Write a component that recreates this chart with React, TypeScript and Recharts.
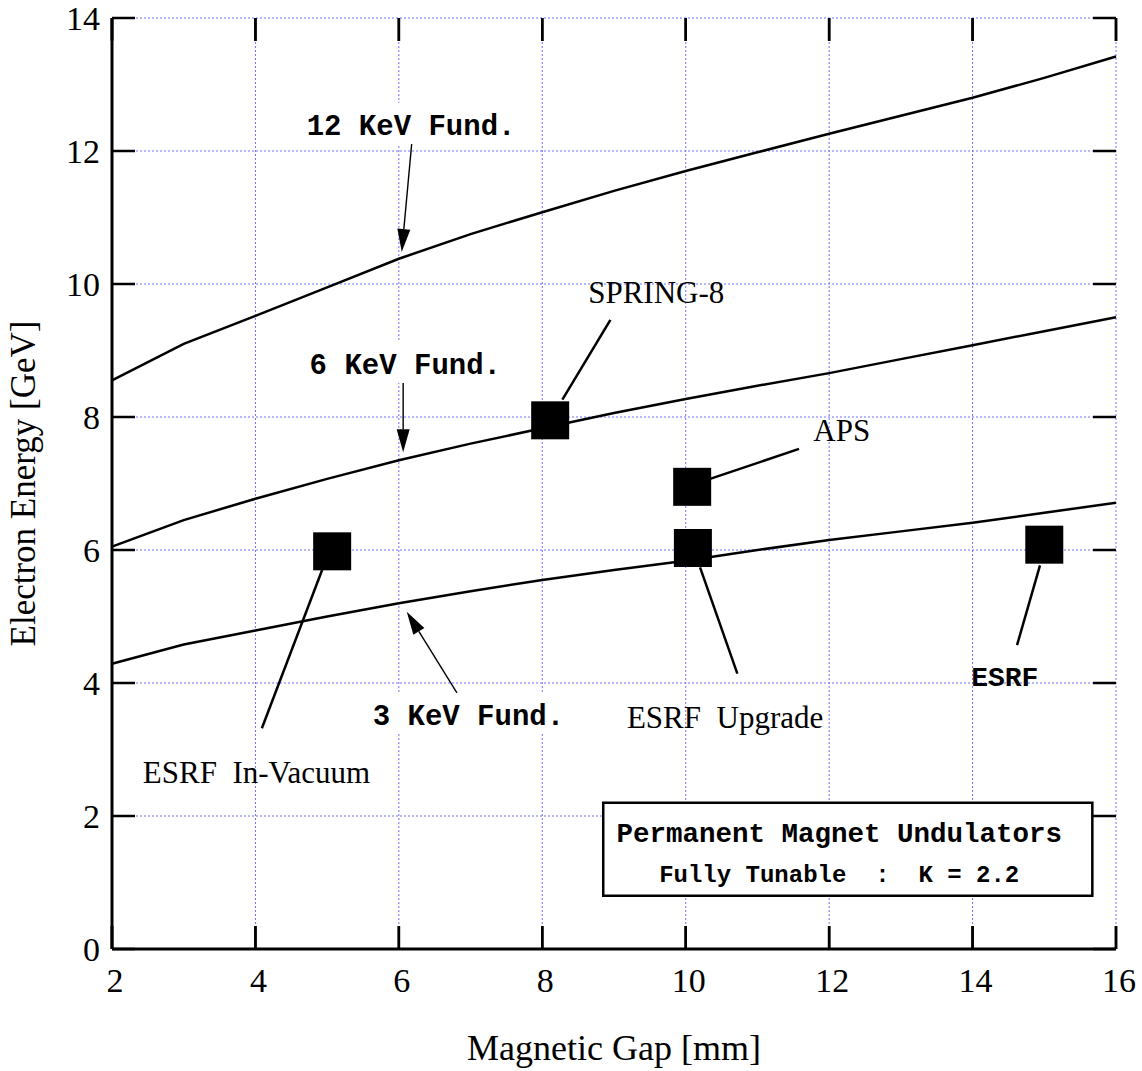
import React from 'react';
import {
  ComposedChart,
  Line,
  Scatter,
  XAxis,
  YAxis,
  CartesianGrid,
  ReferenceLine,
  ReferenceDot,
  ReferenceArea,
} from 'recharts';

// Magnetic gap [mm] where the tuning curves were computed
const gaps = [2, 3, 4, 5, 6, 7, 8, 9, 10, 11, 12, 13, 14, 15, 16];
// Electron energy [GeV] for each fundamental
const fund12 = [8.55, 9.1, 9.52, 9.95, 10.38, 10.75, 11.08, 11.4, 11.7, 11.98, 12.26, 12.53, 12.8, 13.1, 13.42];
const fund6 = [6.05, 6.45, 6.77, 7.07, 7.35, 7.6, 7.83, 8.06, 8.27, 8.47, 8.66, 8.87, 9.08, 9.29, 9.5];
const fund3 = [4.29, 4.58, 4.79, 5.0, 5.2, 5.38, 5.55, 5.7, 5.84, 6.0, 6.15, 6.28, 6.41, 6.56, 6.71];

// Facilities
const siteNames = ['ESRF In-Vacuum', 'SPRING-8', 'APS', 'ESRF Upgrade', 'ESRF'];
const siteGap = [5.07, 8.11, 10.09, 10.1, 15.0];
const siteEnergy = [5.98, 7.95, 6.95, 6.03, 6.08];

const xTicks = [2, 4, 6, 8, 10, 12, 14, 16];
const yTicks = [0, 2, 4, 6, 8, 10, 12, 14];
const xMin = 2;
const xMax = 16;
const yMin = 0;
const yMax = 14;

// thin arrows pointing at curves: [x1, y1, x2, y2]
const arrows = [
  [6.18, 12.12, 6.04, 10.48],
  [6.06, 8.51, 6.06, 7.47],
  [6.81, 3.85, 6.11, 5.07],
];
// leader lines from facility squares to their names
const leaders = [
  [4.93, 5.7, 4.09, 3.32],
  [8.28, 8.26, 8.95, 9.46],
  [10.34, 7.07, 11.58, 7.52],
  [10.2, 5.74, 10.72, 4.14],
  [14.94, 5.77, 14.62, 4.57],
];
const curveLabels = ['12 KeV Fund.', '6 KeV Fund.', '3 KeV Fund.'];
const curveLabelPos = [
  [6.17, 12.24],
  [6.09, 8.65],
  [6.97, 3.37],
];
const siteLabelPos = [
  [2.43, 2.5],
  [8.64, 9.71],
  [11.78, 7.64],
  [9.18, 3.32],
  [13.98, 3.95],
];
const boxLines = ['Permanent Magnet Undulators', 'Fully Tunable  :  K = 2.2'];

const rows = gaps.map((g, i) => ({ gap: g, k12: fund12[i], k6: fund6[i], k3: fund3[i] }));
const sites = siteNames.map((n, i) => ({ name: n, gap: siteGap[i], energy: siteEnergy[i] }));

const serif = '"Liberation Serif", "Times New Roman", serif';
const mono = '"Liberation Mono", "Courier New", monospace';

const TICK = 23;
const TW = 2.5;
const axisLine = { stroke: '#000', strokeWidth: 3 };

function BottomTick({ x, y, payload }: any) {
  return (
    <text x={x + 3} y={y + 43} textAnchor="middle" fontFamily={serif} fontSize={34} fill="#000">
      {payload.value}
    </text>
  );
}

function LeftTick({ x, y, payload }: any) {
  return (
    <text x={x - 12} y={y + 12} textAnchor="end" fontFamily={serif} fontSize={34} fill="#000">
      {payload.value}
    </text>
  );
}

// short inward tick marks at both ends of a horizontal reference segment
function tickPair(p: any) {
  const { x1, y1, x2, y2 } = p;
  const len = Math.hypot(x2 - x1, y2 - y1) || 1;
  const ux = ((x2 - x1) / len) * TICK;
  const uy = ((y2 - y1) / len) * TICK;
  return (
    <g>
      <line x1={x1} y1={y1} x2={x1 + ux} y2={y1 + uy} stroke="#000" strokeWidth={TW} />
      <line x1={x2} y1={y2} x2={x2 - ux} y2={y2 - uy} stroke="#000" strokeWidth={TW} />
    </g>
  );
}

// vertical inward ticks on the top and bottom frame; the area spans the whole
// linear x domain, so each tick sits at its proportional place along the width
function frameTicks(p: any) {
  const { x, y, width, height } = p;
  return (
    <g>
      {xTicks.map((v) => {
        const px = x + ((v - xMin) / (xMax - xMin)) * width;
        return (
          <g key={v}>
            <rect x={px - TW / 2} y={y + height - TICK} width={TW} height={TICK} fill="#000" />
            <rect x={px - TW / 2} y={y} width={TW} height={TICK} fill="#000" />
          </g>
        );
      })}
    </g>
  );
}

function arrowShape(p: any) {
  const { x1, y1, x2, y2 } = p;
  const a = Math.atan2(y2 - y1, x2 - x1);
  const L = 23;
  const W = 6.5;
  const bx = x2 - L * Math.cos(a);
  const by = y2 - L * Math.sin(a);
  const px = -Math.sin(a) * W;
  const py = Math.cos(a) * W;
  return (
    <g>
      <line x1={x1} y1={y1} x2={bx} y2={by} stroke="#000" strokeWidth={1.4} />
      <polygon points={`${x2},${y2} ${bx + px},${by + py} ${bx - px},${by - py}`} fill="#000" />
    </g>
  );
}

function squareShape(p: any) {
  const s = 38;
  return <rect x={p.cx - s / 2} y={p.cy - s / 2} width={s} height={s} fill="#000" />;
}

export default function App() {
  return (
    <div style={{ position: 'absolute', left: 0, top: 0, background: '#fff' }}>
      <ComposedChart
        width={1142}
        height={1071}
        data={rows}
        margin={{ top: 18, right: 26, left: 0, bottom: 0 }}
      >
        <CartesianGrid stroke="#7070ff" strokeDasharray="2 2" strokeWidth={1} />
        <XAxis
          dataKey="gap"
          type="number"
          domain={[xMin, xMax]}
          ticks={xTicks}
          height={122}
          tickSize={0}
          tickMargin={0}
          tickLine={false}
          tick={<BottomTick />}
          axisLine={axisLine}
          label={{
            content: (p: any) => {
              const vb = p.viewBox;
              return (
                <text x={vb.x + vb.width / 2} y={vb.y + 111} textAnchor="middle" fontFamily={serif} fontSize={36} fill="#000">
                  Magnetic Gap [mm]
                </text>
              );
            },
          }}
        />
        <XAxis
          xAxisId="top"
          orientation="top"
          type="number"
          domain={[xMin, xMax]}
          height={0}
          tickLine={false}
          tick={false}
          axisLine={axisLine}
        />
        <YAxis
          type="number"
          domain={[yMin, yMax]}
          ticks={yTicks}
          width={112}
          tickSize={0}
          tickMargin={0}
          tickLine={false}
          tick={<LeftTick />}
          axisLine={axisLine}
          label={{
            content: (p: any) => {
              const vb = p.viewBox;
              const cy = vb.y + vb.height / 2;
              return (
                <text
                  x={35}
                  y={cy}
                  transform={`rotate(-90, 35, ${cy})`}
                  textAnchor="middle"
                  fontFamily={serif}
                  fontSize={35}
                  fill="#000"
                >
                  Electron Energy [GeV]
                </text>
              );
            },
          }}
        />
        <YAxis
          yAxisId="right"
          orientation="right"
          type="number"
          domain={[yMin, yMax]}
          width={0}
          tickLine={false}
          tick={false}
          axisLine={axisLine}
        />

        {yTicks.map((v) => (
          <ReferenceLine
            key={'yt' + v}
            segment={[{ x: xMin, y: v }, { x: xMax, y: v }]}
            shape={tickPair}
            ifOverflow="visible"
          />
        ))}
        {xTicks.map((v) => (
          <ReferenceLine
            key={'xt' + v}
            segment={[{ x: v, y: yMin }, { x: v, y: yMax }]}
            shape={tickPair}
            ifOverflow="visible"
          />
        ))}
        <ReferenceArea
          x1={xMin}
          x2={xMax}
          y1={yMin}
          y2={yMax}
          ifOverflow="visible"
          shape={frameTicks}
        />

        <Line type="linear" dataKey="k12" stroke="#000" strokeWidth={2.5} dot={false} isAnimationActive={false} />
        <Line type="linear" dataKey="k6" stroke="#000" strokeWidth={2.5} dot={false} isAnimationActive={false} />
        <Line type="linear" dataKey="k3" stroke="#000" strokeWidth={2.5} dot={false} isAnimationActive={false} />

        {leaders.map((s, i) => (
          <ReferenceLine
            key={'ld' + i}
            segment={[{ x: s[0], y: s[1] }, { x: s[2], y: s[3] }]}
            stroke="#000"
            strokeWidth={2.5}
          />
        ))}

        {arrows.map((s, i) => (
          <ReferenceLine
            key={'ar' + i}
            segment={[{ x: s[0], y: s[1] }, { x: s[2], y: s[3] }]}
            shape={arrowShape}
          />
        ))}

        <Scatter data={sites} dataKey="energy" shape={squareShape} isAnimationActive={false} />

        {curveLabels.map((t, i) => (
          <ReferenceDot
            key={'cl' + i}
            x={curveLabelPos[i][0]}
            y={curveLabelPos[i][1]}
            r={1}
            shape={(p: any) => {
              const w = t.length * 0.6 * 29;
              return (
                <g>
                  <rect x={p.cx - w / 2 - 4} y={p.cy - 32} width={w + 8} height={41} fill="#fff" />
                  <text x={p.cx} y={p.cy} textAnchor="middle" fontFamily={mono} fontWeight="bold" fontSize={29} fill="#000">
                    {t}
                  </text>
                </g>
              );
            }}
          />
        ))}

        {siteNames.map((t, i) => (
          <ReferenceDot
            key={'sl' + i}
            x={siteLabelPos[i][0]}
            y={siteLabelPos[i][1]}
            r={1}
            shape={(p: any) =>
              t === 'ESRF' ? (
                <text x={p.cx} y={p.cy} fontFamily={mono} fontWeight="bold" fontSize={28} fill="#000">
                  {t}
                </text>
              ) : (
                <text x={p.cx} y={p.cy} fontFamily={serif} fontSize={31} fill="#000" style={{ whiteSpace: 'pre' }}>
                  {t.replace(' ', '\u00a0 ')}
                </text>
              )
            }
          />
        ))}

        <ReferenceArea x1={8.85} x2={15.67} y1={0.8} y2={2.2} fill="#fff" fillOpacity={1} stroke="#000" strokeWidth={2.5} />
        {boxLines.map((t, i) => (
          <ReferenceDot
            key={'bx' + i}
            x={12.14}
            y={i === 0 ? 1.61 : 1.01}
            r={1}
            shape={(p: any) => (
              <text
                x={p.cx}
                y={p.cy}
                textAnchor="middle"
                fontFamily={mono}
                fontWeight="bold"
                fontSize={i === 0 ? 27.5 : 24}
                fill="#000"
                style={{ whiteSpace: 'pre' }}
              >
                {t}
              </text>
            )}
          />
        ))}
      </ComposedChart>
    </div>
  );
}
